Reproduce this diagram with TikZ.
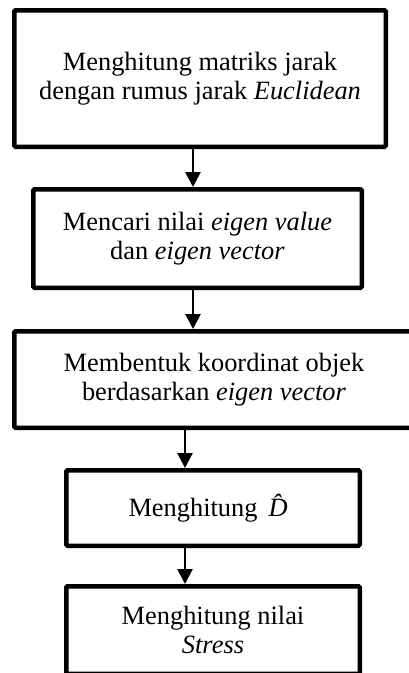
\documentclass[tikz,border=0pt]{standalone}
\usepackage{fontspec}
\setmainfont{Liberation Serif}
\usetikzlibrary{arrows.meta}
\begin{document}
\begin{tikzpicture}[x=1pt,y=-1pt,
  stepbox/.style={draw=black, line width=4.5pt, rounded corners=1.2pt,
    fill=white, inner sep=0pt, align=center,
    font=\fontsize{26.4}{28.5}\selectfont},
  arr/.style={line width=2.7pt, -{Triangle[length=15pt,width=15pt]}}]
  \useasboundingbox (0,0) rectangle (409,673);
  \clip (0,0) rectangle (409,673);

  % process steps, top to bottom
  \node[stepbox, minimum width=371.5pt, minimum height=136.5pt] (b1) at (200,78.5)
    {Menghitung matriks jarak\\dengan rumus jarak \textit{Euclidean}};
  \node[stepbox, minimum width=328.5pt, minimum height=98.5pt] (b2) at (197.5,238.5)
    {Mencari nilai \textit{eigen value}\\dan \textit{eigen vector}};
  \node[stepbox, minimum width=399.5pt, minimum height=96.5pt] (b3) at (214,379.5)
    {Membentuk koordinat objek\\berdasarkan \textit{eigen vector}};
  \node[stepbox, minimum width=293.5pt, minimum height=75.5pt] (b4) at (213,508)
    {Menghitung\ \,\textit{\^{D}}};
  \node[stepbox, minimum width=293.5pt, minimum height=87.5pt] (b5) at (213,630)
    {Menghitung nilai\\\textit{Stress}};

  % flow arrows
  \coordinate (xa) at (193,0);
  \coordinate (xb) at (185,0);
  \draw[arr] (b1.south -| xa) -- (b2.north -| xa);
  \draw[arr] (b2.south -| xa) -- (b3.north -| xa);
  \draw[arr] (b3.south -| xb) -- (b4.north -| xb);
  \draw[arr] (b4.south -| xb) -- (b5.north -| xb);
\end{tikzpicture}
\end{document}
